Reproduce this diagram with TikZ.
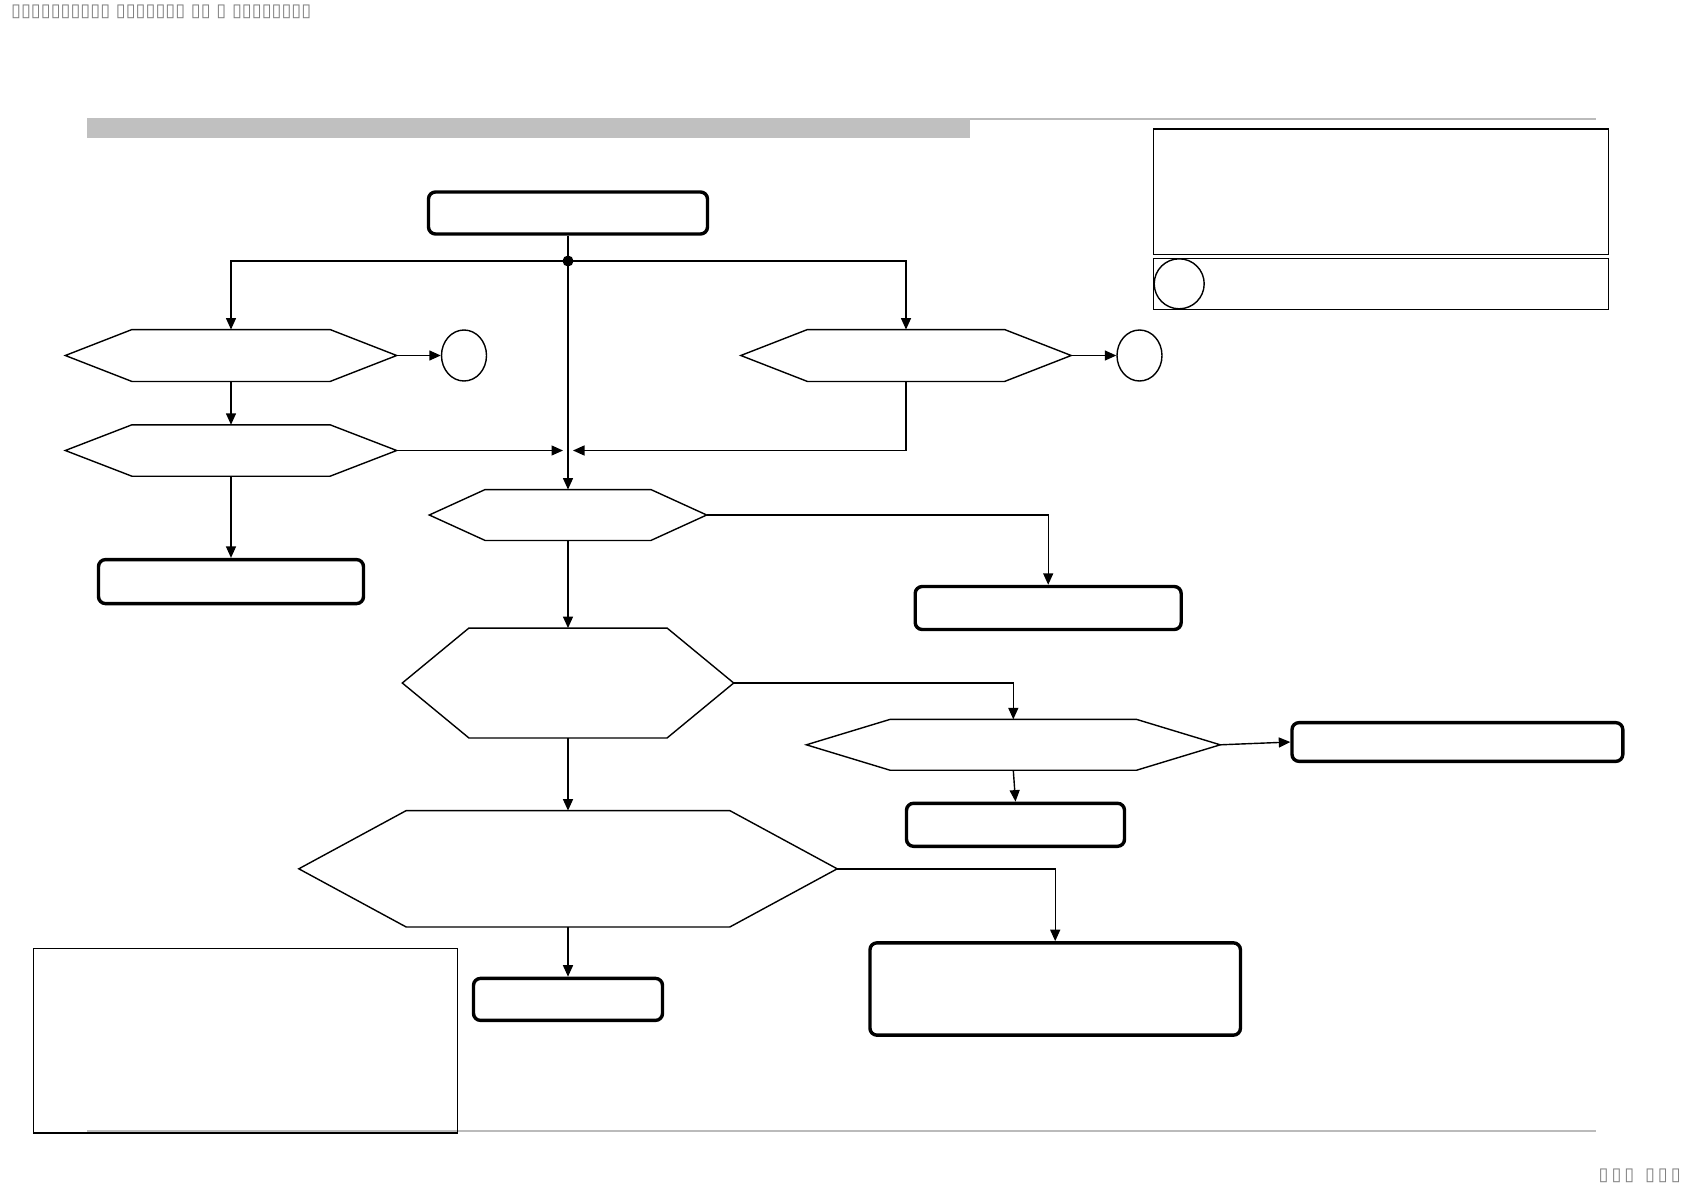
\documentclass[tikz,border=0pt]{standalone}
\usepackage{fontspec}
\newfontfamily\djv{DejaVu Sans}
\usetikzlibrary{arrows.meta,shapes.geometric,calc}
\definecolor{barGray}{HTML}{C0C0C0}
\definecolor{tofuGray}{HTML}{808080}
\definecolor{lineGray}{HTML}{BBBBBB}
\tikzset{
  con/.style={line width=1.4pt,-{Triangle[length=11.5pt,width=10pt]}},
  plain/.style={line width=1.4pt},
  rbox/.style={draw,line width=3.4pt,rounded corners=7pt,inner sep=0pt,fill=white},
  hexframe/.style={inner sep=0pt,draw=none},
  hexline/.style={line width=1.4pt},
  oval/.style={ellipse,draw,line width=1.4pt,inner sep=0pt},
  plainbox/.style={draw,line width=1.6pt,inner sep=0pt},
  tofutext/.style={text=tofuGray,inner sep=0pt,font=\djv\fontsize{18}{18}\selectfont},
}
\newcommand\myhex[1]{%
  \draw[hexline] (#1.west) -- ([xshift=\hexinset]#1.north west) -- ([xshift=-\hexinset]#1.north east) -- (#1.east) -- ([xshift=-\hexinset]#1.south east) -- ([xshift=\hexinset]#1.south west) -- cycle;}
\newlength\hexinset
\begin{document}
\begin{tikzpicture}[x=1pt,y=1pt]
\useasboundingbox[fill=white] (0,0) rectangle (1684,-1191);

% header / footer decorations
\fill[barGray] (87,-118) rectangle (970,-137.5);
\draw[lineGray,line width=1.2pt] (970,-119) -- (1596,-119);
\draw[lineGray,line width=1.4pt] (87,-1131) -- (1596,-1131);

\node[tofutext,anchor=west] (hdr) at (11,-12) {▯▯▯▯▯▯▯▯▯▯ ▯▯▯▯▯▯▯ ▯▯ ▯ ▯▯▯▯▯▯▯▯};
\node[tofutext,anchor=east] (ftr) at (1681,-1176) {▯\,▯\,▯\; ▯\,▯\,▯};

% top-right legend boxes
\node[plainbox,minimum width=455pt,minimum height=125.5pt] (leg1) at (1381,-191.7) {};
\node[plainbox,line width=1.2pt,minimum width=455pt,minimum height=50.5pt] (leg2) at (1381,-284) {};
\node[oval,minimum width=50pt,minimum height=50pt] (legc) at (1179.2,-283.8) {};

% bottom-left note box
\node[plainbox,line width=1.3pt,minimum width=424pt,minimum height=184.7pt] (note) at (245.4,-1040.6) {};

% start box
\node[rbox,minimum width=279pt,minimum height=42pt] (start) at (568,-213) {};
\node[circle,fill=black,inner sep=0pt,minimum size=11pt] (dot) at (568,-261) {};

% left column
\node[hexframe,minimum width=331pt,minimum height=51.5pt] (hL1) at (231,-355.5) {};
\setlength\hexinset{66.6pt}\myhex{hL1}
\node[oval,minimum width=45pt,minimum height=51pt] (cL) at (464,-355.5) {};
\node[hexframe,minimum width=331pt,minimum height=51pt] (hL2) at (231,-450.5) {};
\setlength\hexinset{66.6pt}\myhex{hL2}
\node[rbox,minimum width=265pt,minimum height=44pt] (bL1) at (231,-581.6) {};

% right top
\node[hexframe,minimum width=330pt,minimum height=51.5pt] (hR1) at (906,-355.5) {};
\setlength\hexinset{66.6pt}\myhex{hR1}
\node[oval,minimum width=45pt,minimum height=51pt] (cR) at (1139.5,-355.5) {};

% center column
\node[hexframe,minimum width=277pt,minimum height=50.5pt] (h3) at (568,-515) {};
\setlength\hexinset{55.8pt}\myhex{h3}
\node[rbox,minimum width=266pt,minimum height=43pt] (bR1) at (1048.2,-608) {};
\node[hexframe,minimum width=331pt,minimum height=109.5pt] (h4) at (568,-683) {};
\setlength\hexinset{66.6pt}\myhex{h4}
\node[hexframe,minimum width=413.5pt,minimum height=50.5pt] (h5) at (1013.3,-744.8) {};
\setlength\hexinset{83.8pt}\myhex{h5}
\node[rbox,minimum width=330.8pt,minimum height=38.7pt] (bR2) at (1457.4,-742) {};
\node[rbox,minimum width=218pt,minimum height=43pt] (bR3) at (1015.5,-824.8) {};
\node[hexframe,minimum width=538pt,minimum height=116pt] (h6) at (568,-868.8) {};
\setlength\hexinset{107.4pt}\myhex{h6}
\node[rbox,minimum width=370.5pt,minimum height=92.3pt] (bR4) at (1055.2,-989) {};
\node[rbox,minimum width=189pt,minimum height=42pt] (bC) at (568,-999.4) {};

% merge points on center line
\coordinate (mL) at (563,-450.5);
\coordinate (mR) at (573,-450.5);

% connectors
\draw[plain] (start.south) -- (dot.center);
\draw[con] (dot.center) -| (hL1.north);
\draw[con] (dot.center) -| (hR1.north);
\draw[con] (dot.center) -- (h3.north);
\draw[con] (hL1.east) -- (cL.west);
\draw[con] (hR1.east) -- (cR.west);
\draw[con] (hL1.south) -- (hL2.north);
\draw[con] (hL2.east) -- (mL);
\draw[con] (hR1.south) |- (mR);
\draw[con] (hL2.south) -- (bL1.north);
\draw[con] (h3.east) -| (bR1.north);
\draw[con] (h3.south) -- (h4.north);
\draw[con] (h4.east) -| (h5.north);
\draw[con] (h5.east) -- (bR2.west);
\draw[con] (h5.south) -- (bR3.north);
\draw[con] (h4.south) -- (h6.north);
\draw[con] (h6.east) -| (bR4.north);
\draw[con] (h6.south) -- (bC.north);
\end{tikzpicture}
\end{document}
